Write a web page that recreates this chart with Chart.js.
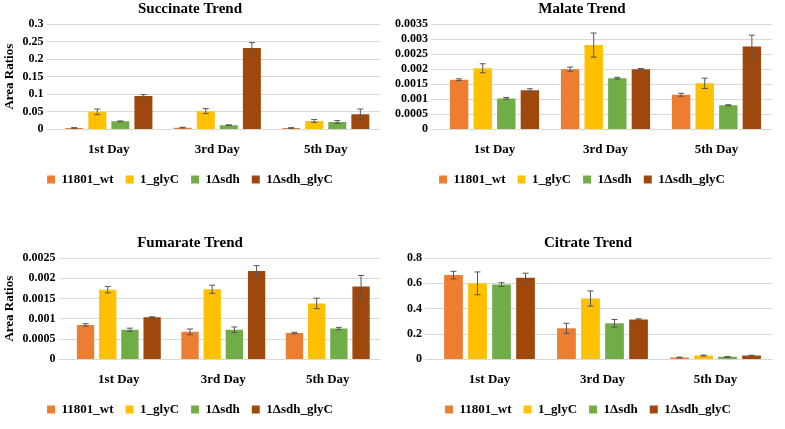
<!DOCTYPE html>
<html><head>
<script src="https://cdn.jsdelivr.net/npm/chart.js@4"></script>
<style>
body{margin:0;background:#fff;width:785px;height:429px;position:relative;overflow:hidden}
.box{position:absolute}
</style></head>
<body>
<div class="box" style="left:0;top:0;width:392px;height:196px"><canvas id="c1"></canvas></div>
<div class="box" style="left:392px;top:0;width:392px;height:196px"><canvas id="c2"></canvas></div>
<div class="box" style="left:0;top:234px;width:392px;height:192px"><canvas id="c3"></canvas></div>
<div class="box" style="left:392px;top:234px;width:392px;height:192px"><canvas id="c4"></canvas></div>
<script>
const days = ['1st Day', '3rd Day', '5th Day'];
const strains = ['11801_wt', '1_glyC', '1Δsdh', '1Δsdh_glyC'];
const colors = ['#ED7D31', '#FFC000', '#70AD47', '#9E480E'];

// succinate
const sucVals = [[0.004, 0.005, 0.004], [0.05, 0.052, 0.024], [0.023, 0.012, 0.021], [0.095, 0.232, 0.043]];
const sucErr = [[0.001, 0.001, 0.001], [0.008, 0.007, 0.004], [0.001, 0.001, 0.004], [0.004, 0.015, 0.015]];
// malate
const malVals = [[0.00165, 0.002, 0.00115], [0.00203, 0.0028, 0.00153], [0.00103, 0.0017, 0.0008], [0.0013, 0.002, 0.00275]];
const malErr = [[0.00003, 0.00007, 0.00005], [0.00015, 0.0004, 0.00017], [0.00003, 0.00003, 0.00002], [0.00005, 0.00002, 0.00038]];
// fumarate
const fumVals = [[0.00085, 0.00068, 0.00065], [0.00172, 0.00173, 0.00138], [0.00073, 0.00073, 0.00076], [0.00104, 0.00218, 0.0018]];
const fumErr = [[0.00003, 0.00007, 0.00002], [0.00008, 0.0001, 0.00013], [0.00004, 0.00007, 0.00003], [0.00001, 0.00013, 0.00027]];
// citrate
const citVals = [[0.665, 0.245, 0.015], [0.6, 0.48, 0.03], [0.59, 0.285, 0.02], [0.645, 0.315, 0.03]];
const citErr = [[0.03, 0.04, 0.003], [0.09, 0.06, 0.004], [0.015, 0.03, 0.003], [0.035, 0.005, 0.003]];

Chart.defaults.font.family = '"Liberation Serif", serif';
Chart.defaults.font.weight = 'bold';
Chart.defaults.color = '#000';
Chart.defaults.animation = false;

// error bars drawn through the chart's own scales
const errorBars = {
  id: 'errorBars',
  afterDatasetsDraw(chart) {
    const ctx = chart.ctx;
    const y = chart.scales.y;
    ctx.save();
    ctx.strokeStyle = '#555';
    ctx.lineWidth = 1;
    chart.data.datasets.forEach((ds, i) => {
      chart.getDatasetMeta(i).data.forEach((bar, j) => {
        const v = ds.data[j], e = ds.err[j];
        const top = y.getPixelForValue(v + e), bot = y.getPixelForValue(v - e);
        ctx.beginPath();
        ctx.moveTo(bar.x, top); ctx.lineTo(bar.x, bot);
        ctx.moveTo(bar.x - 3, top); ctx.lineTo(bar.x + 3, top);
        ctx.moveTo(bar.x - 3, bot); ctx.lineTo(bar.x + 3, bot);
        ctx.stroke();
      });
    });
    ctx.restore();
  }
};

const makeChart = (id, title, vals, errs, max, step, yTitle, leftPad) => {
  new Chart(document.getElementById(id), {
    type: 'bar',
    data: {
      labels: days,
      datasets: strains.map((s, i) => ({
        label: s, data: vals[i], err: errs[i], backgroundColor: colors[i],
        categoryPercentage: 0.85, barPercentage: 0.78
      }))
    },
    options: {
      responsive: true, maintainAspectRatio: false,
      layout: {padding: {left: leftPad, right: 12}},
      plugins: {
        title: {display: true, text: title, font: {size: 15}, padding: {top: 0, bottom: 6}},
        legend: {position: 'bottom', labels: {boxWidth: 8, boxHeight: 8, font: {size: 13}, padding: 12}},
        tooltip: {enabled: false}
      },
      scales: {
        x: {grid: {display: false}, border: {color: '#d9d9d9'}, ticks: {font: {size: 13}, padding: 4}},
        y: {
          min: 0, max: max,
          ticks: {stepSize: step, autoSkip: false, font: {size: 12}, callback: v => String(Number(v.toFixed(6)))},
          grid: {color: '#d9d9d9'}, border: {display: false},
          title: {display: yTitle, text: 'Area Ratios', font: {size: 13}, padding: 2}
        }
      }
    },
    plugins: [errorBars]
  });
};

makeChart('c1', 'Succinate Trend', sucVals, sucErr, 0.3, 0.05, true, 0);
makeChart('c2', 'Malate Trend', malVals, malErr, 0.0035, 0.0005, false, 0);
makeChart('c3', 'Fumarate Trend', fumVals, fumErr, 0.0025, 0.0005, true, 0);
makeChart('c4', 'Citrate Trend', citVals, citErr, 0.8, 0.2, false, 12);
</script>
</body></html>
